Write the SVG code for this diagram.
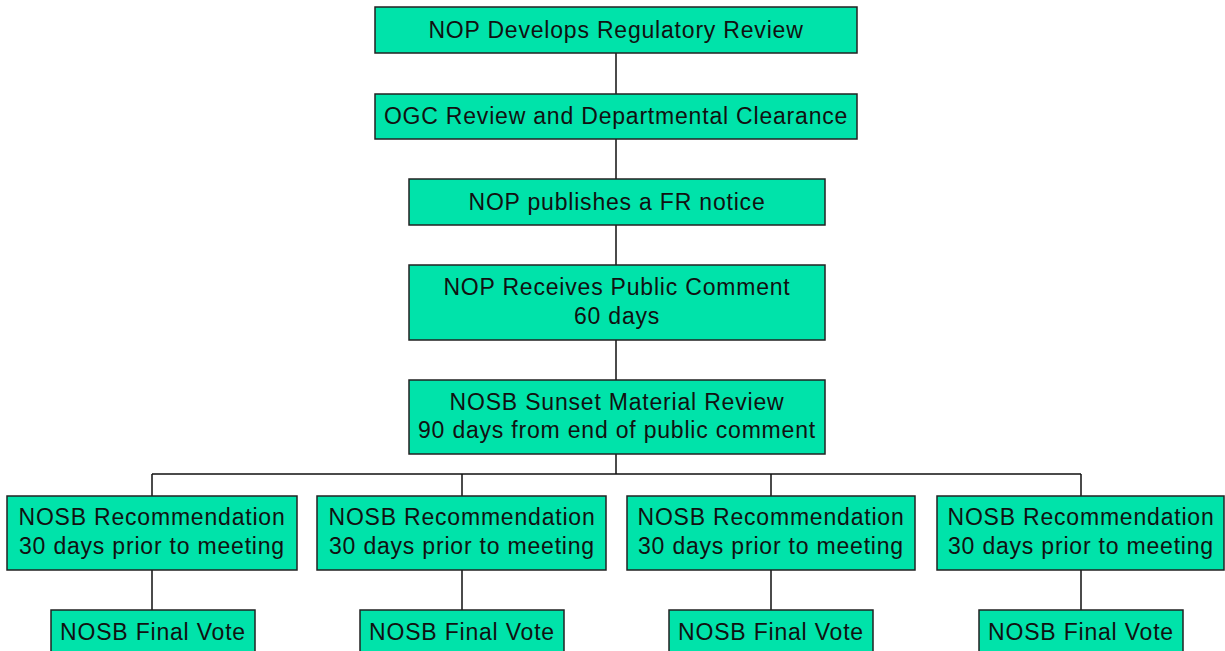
<svg xmlns="http://www.w3.org/2000/svg" width="1225" height="651" viewBox="0 0 1225 651">
<style>
.box{fill:#00E3AA;stroke:#222;stroke-width:1.5}
.t{font-family:"Liberation Sans",Arial,sans-serif;font-size:23px;letter-spacing:0.8px;fill:#111;text-anchor:middle}
.c{stroke:#111;stroke-width:1.5;fill:none}
</style>
<rect width="1225" height="651" fill="#fff"/>
<g id="connectors">
<path class="c" d="M616 53V94M616 139V179M616 225V265M616 340V380M616 454V474M152 474H1081M152 474V496M462 474V496M771 474V496M1081 474V496M152 570V610M462 570V610M771 570V610M1081 570V610"/>
</g>
<g id="n1"><rect class="box" x="375" y="7" width="482" height="46"/><text class="t" x="616" y="38">NOP Develops Regulatory Review</text></g>
<g id="n2"><rect class="box" x="375" y="94" width="482" height="45"/><text class="t" x="616" y="124">OGC Review and Departmental Clearance</text></g>
<g id="n3"><rect class="box" x="409" y="179" width="416" height="46"/><text class="t" x="617" y="210">NOP publishes a FR notice</text></g>
<g id="n4"><rect class="box" x="409" y="265" width="416" height="75"/><text class="t" x="617" y="295">NOP Receives Public Comment</text><text class="t" x="617" y="324">60 days</text></g>
<g id="n5"><rect class="box" x="409" y="380" width="416" height="74"/><text class="t" x="617" y="410">NOSB Sunset Material Review</text><text class="t" x="617" y="438">90 days from end of public comment</text></g>
<g id="r1"><rect class="box" x="7" y="496" width="290" height="74"/><text class="t" x="152" y="525">NOSB Recommendation</text><text class="t" x="152" y="554">30 days prior to meeting</text></g>
<g id="r2"><rect class="box" x="317" y="496" width="289" height="74"/><text class="t" x="462" y="525">NOSB Recommendation</text><text class="t" x="462" y="554">30 days prior to meeting</text></g>
<g id="r3"><rect class="box" x="627" y="496" width="288" height="74"/><text class="t" x="771" y="525">NOSB Recommendation</text><text class="t" x="771" y="554">30 days prior to meeting</text></g>
<g id="r4"><rect class="box" x="937" y="496" width="287" height="74"/><text class="t" x="1081" y="525">NOSB Recommendation</text><text class="t" x="1081" y="554">30 days prior to meeting</text></g>
<g id="v1"><rect class="box" x="51" y="610" width="204" height="50"/><text class="t" x="153" y="640">NOSB Final Vote</text></g>
<g id="v2"><rect class="box" x="360" y="610" width="204" height="50"/><text class="t" x="462" y="640">NOSB Final Vote</text></g>
<g id="v3"><rect class="box" x="669" y="610" width="204" height="50"/><text class="t" x="771" y="640">NOSB Final Vote</text></g>
<g id="v4"><rect class="box" x="979" y="610" width="204" height="50"/><text class="t" x="1081" y="640">NOSB Final Vote</text></g>
</svg>
